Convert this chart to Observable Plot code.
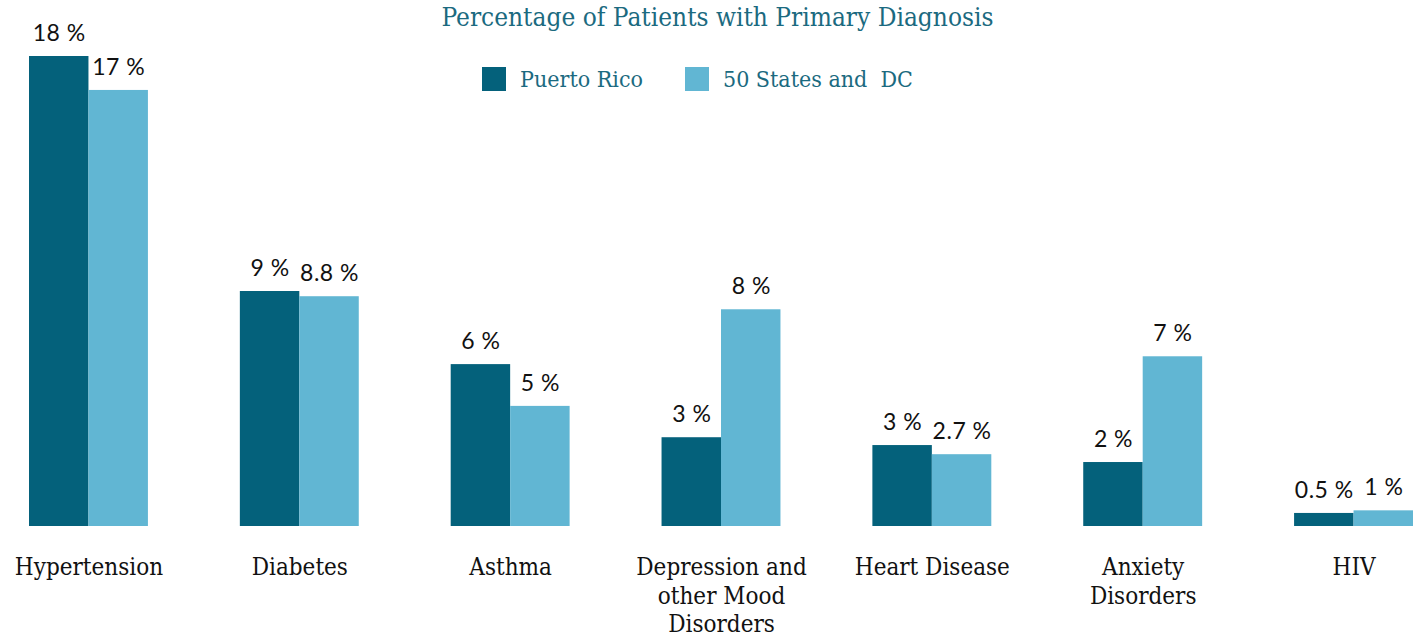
<!DOCTYPE html>
<html>
<head>
<meta charset="utf-8">
<script src="https://cdn.jsdelivr.net/npm/d3@7"></script>
<script src="https://cdn.jsdelivr.net/npm/@observablehq/plot@0.6"></script>
<style>
  html, body { margin: 0; padding: 0; background: #fff; }
  #wrap { position: relative; width: 1419px; height: 636px; }
  #title { position: absolute; left: 0; width: 1435px; top: 2px; text-align: center;
    font-family: "DejaVu Serif Condensed", "DejaVu Serif", serif; font-stretch: condensed;
    font-size: 26px; color: #1b6a80; }
  #legend { position: absolute; top: 66px; left: 482px; display: flex; align-items: center;
    font-family: "DejaVu Serif Condensed", "DejaVu Serif", serif; font-stretch: condensed;
    font-size: 23px; color: #1b6a80; }
  .sw { width: 24px; height: 24px; display: inline-block; margin-right: 14px; }
  .item { display: flex; align-items: center; margin-right: 42px; white-space: pre; }
  .vlab text { letter-spacing: 0.5px; }
</style>
</head>
<body>
<div id="wrap">
  <div id="chart"></div>
  <div id="title"></div>
  <div id="legend"></div>
</div>
<script>
const titleText = "Percentage of Patients with Primary Diagnosis";
const categories = ["Hypertension", "Diabetes", "Asthma", "Depression and other Mood Disorders", "Heart Disease", "Anxiety Disorders", "HIV"];
const tickLabels = ["Hypertension", "Diabetes", "Asthma", "Depression and\nother Mood\nDisorders", "Heart Disease", "Anxiety\nDisorders", "HIV"];
const series = ["Puerto Rico", "50 States and  DC"];
const prValues = [18, 9, 6.2, 3.4, 3.1, 2.45, 0.5];
const usValues = [16.7, 8.8, 4.6, 8.3, 2.75, 6.5, 0.6];
const prLabels = ["18 %", "9 %", "6 %", "3 %", "3 %", "2 %", "0.5 %"];
const usLabels = ["17 %", "8.8 %", "5 %", "8 %", "2.7 %", "7 %", "1 %"];
const colors = ["#04617b", "#61b6d3"];

const data = [];
categories.forEach((c, i) => {
  data.push({cat: c, series: series[0], value: prValues[i], label: prLabels[i]});
  data.push({cat: c, series: series[1], value: usValues[i], label: usLabels[i]});
});

const chart = Plot.plot({
  width: 1419,
  height: 636,
  marginTop: 56,
  marginBottom: 110,
  marginLeft: 29,
  marginRight: 6,
  style: {background: "transparent", overflow: "visible"},
  fx: {domain: categories, paddingInner: 0.436, paddingOuter: 0, round: false, label: null},
  x: {domain: series, padding: 0, round: false, axis: null},
  y: {domain: [0, 18], axis: null},
  color: {domain: series, range: colors},
  marks: [
    Plot.barY(data, {fx: "cat", x: "series", y: "value", fill: "series", inset: 0}),
    Plot.text(data, {fx: "cat", x: "series", y: "value", text: "label", dy: -23,
      fontSize: 23, fontFamily: "Lato", fill: "#111", className: "vlab"}),
    Plot.axisFx({anchor: "bottom", tickSize: 0, tickPadding: 29,
      tickFormat: d => tickLabels[categories.indexOf(d)],
      fontSize: 24, fontFamily: "DejaVu Serif Condensed, DejaVu Serif, serif", lineHeight: 1.17,
      fill: "#111", label: null})
  ]
});
document.getElementById("chart").appendChild(chart);
document.getElementById("title").textContent = titleText;
const leg = document.getElementById("legend");
series.forEach((s, i) => {
  const it = document.createElement("div");
  it.className = "item";
  const sw = document.createElement("span");
  sw.className = "sw";
  sw.style.background = colors[i];
  it.appendChild(sw);
  it.appendChild(document.createTextNode(s));
  leg.appendChild(it);
});
</script>
</body>
</html>
